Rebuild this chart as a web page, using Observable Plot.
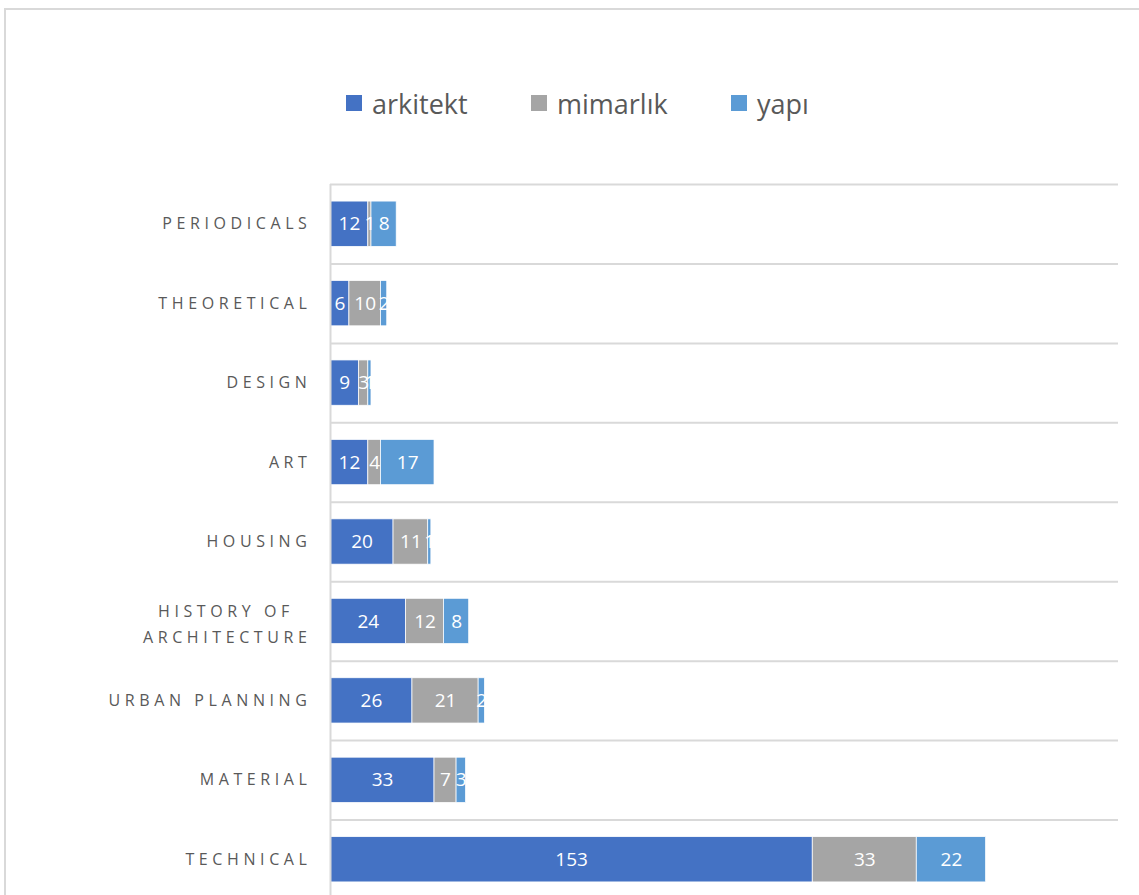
<!DOCTYPE html>
<html>
<head>
<meta charset="utf-8">
<script src="https://cdn.jsdelivr.net/npm/d3@7"></script>
<script src="https://cdn.jsdelivr.net/npm/@observablehq/plot@0.6"></script>
<style>
  html, body { margin: 0; padding: 0; background: #fff; overflow: hidden; }
  body { width: 1139px; height: 895px; position: relative; font-family: "Open Sans", Lato, sans-serif; }
  #frame { position: absolute; left: 4px; top: 8px; width: 1200px; height: 1000px; border-left: 2px solid #d9d9d9; border-top: 2px solid #d9d9d9; box-sizing: border-box; }
  #legend { position: absolute; left: 0; top: 0; font-size: 27px; color: #595959; }
  #legend .item { position: absolute; top: 84px; display: flex; align-items: center; white-space: nowrap; height: 38px; }
  #legend .sw { width: 16px; height: 16px; margin-right: 10px; }
  #chart { position: absolute; left: 0; top: 146px; }
</style>
</head>
<body>
<div id="frame"></div>
<div id="legend"></div>
<div id="chart"></div>
<script>
const categories = ["PERIODICALS", "THEORETICAL", "DESIGN", "ART", "HOUSING", "HISTORY OF\u00a0\u00a0\nARCHITECTURE", "URBAN PLANNING", "MATERIAL", "TECHNICAL"];
const seriesNames = ["arkitekt", "mimarlık", "yapı"];
const seriesColors = ["#4472C4", "#A5A5A5", "#5B9BD5"];
const arkitekt = [12, 6, 9, 12, 20, 24, 26, 33, 153];
const mimarlik = [1, 10, 3, 4, 11, 12, 21, 7, 33];
const yapi = [8, 2, 1, 17, 1, 8, 2, 3, 22];
const xMax = 250;

const seriesValues = [arkitekt, mimarlik, yapi];
const table = seriesNames.flatMap((s, si) => categories.map((c, ci) => ({category: c, series: s, value: seriesValues[si][ci]})));

// legend
const legend = document.getElementById("legend");
const legendLeft = [346, 531, 731];
seriesNames.forEach((s, i) => {
  const it = document.createElement("div");
  it.className = "item";
  it.style.left = legendLeft[i] + "px";
  it.innerHTML = `<span class="sw" style="background:${seriesColors[i]}"></span><span>${s}</span>`;
  legend.appendChild(it);
});

const width = 1139;
const marginTop = 38, marginBottom = 0;
const height = marginTop + 715 + marginBottom;
const step = (height - marginTop - marginBottom) / categories.length;
const single = categories.filter(c => !c.includes("\n"));
const multi = categories.filter(c => c.includes("\n"));

const chart = Plot.plot({
  width, height,
  marginLeft: 330, marginRight: 21, marginTop, marginBottom,
  style: {fontFamily: "'Open Sans', Lato, sans-serif", background: "transparent"},
  x: {domain: [0, xMax], axis: null},
  y: {domain: categories, paddingInner: 0.43, paddingOuter: 0.215, round: false, axis: null},
  color: {domain: seriesNames, range: seriesColors},
  marks: [
    Plot.ruleY(categories, {y: d => d, dy: -step / 2, stroke: "#d9d9d9", strokeWidth: 2, strokeOpacity: 1}),
    Plot.ruleY(categories.slice(-1), {y: d => d, dy: step / 2, stroke: "#d9d9d9", strokeWidth: 2, strokeOpacity: 1}),
    Plot.barX(table, Plot.stackX({x: "value", y: "category", fill: "series", order: seriesNames, stroke: "white", strokeWidth: 0.75})),
    Plot.text(table, Plot.stackX({x: "value", y: "category", z: "series", order: seriesNames, text: d => String(d.value), fill: "white", fontSize: 19})),
    Plot.ruleX([0], {stroke: "#d9d9d9", strokeWidth: 2}),
    Plot.text(single, {x: 0, y: d => d, text: d => d, dx: -19, textAnchor: "end", fill: "#595959", fontSize: 16, className: "cat"}),
    Plot.text(multi, {x: 0, y: d => d, text: d => d, dx: -19, textAnchor: "end", fill: "#595959", fontSize: 16, lineHeight: 1.62, className: "cat"})
  ]
});
document.getElementById("chart").appendChild(chart);
const st = document.createElement("style");
st.textContent = ".cat text { letter-spacing: 4.6px; }";
document.head.appendChild(st);
</script>
</body>
</html>
